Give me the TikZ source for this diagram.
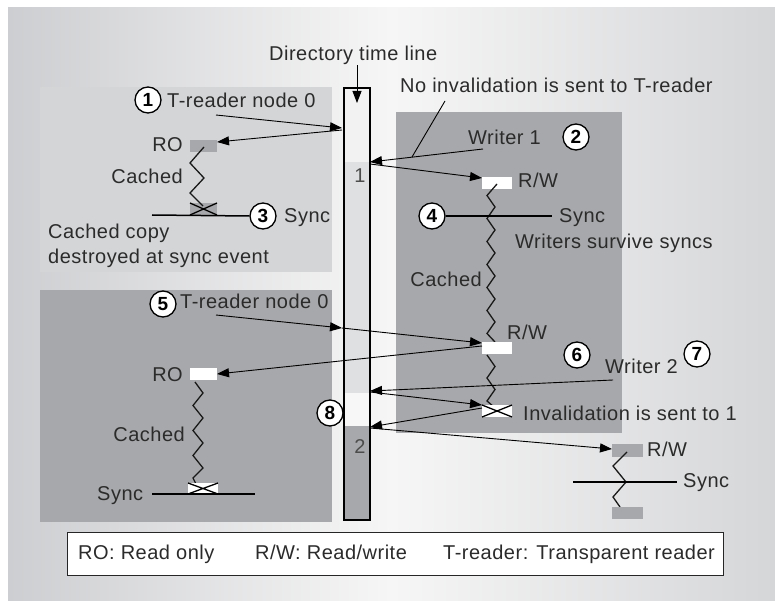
\documentclass[tikz,border=0pt]{standalone}
\usepackage{fontspec}
\setmainfont{Liberation Sans}[LetterSpace=2.5]
\newfontfamily\numfam{Liberation Sans Bold}
\usetikzlibrary{arrows.meta}
\definecolor{txt}{HTML}{2B2B2B}
\definecolor{lightpanel}{HTML}{D4D5D7}
\definecolor{darkpanel}{HTML}{A7A8AB}
\definecolor{bgedge}{HTML}{CDCED1}
\definecolor{bgmid}{HTML}{F6F6F6}
\definecolor{bgright}{HTML}{D5D6D8}
\definecolor{barlight}{HTML}{DFE0E2}
\newcommand\dfont{\fontsize{20}{24}\selectfont}
\newcommand\nfont{\numfam\fontsize{19}{22}\selectfont}
\begin{document}
\begin{tikzpicture}[x=1pt,y=-1pt,
  lbl/.style={font=\dfont, text=txt, inner sep=0pt},
  num/.style={circle, draw=black, fill=white, line width=1.3pt, minimum size=26pt, inner sep=0pt, font=\nfont},
  cbox/.style={anchor=north west, minimum width=27pt, minimum height=12pt, inner sep=0pt, outer sep=0pt},
  wbox/.style={cbox, fill=white},
  gbox/.style={cbox, fill=darkpanel},
  arr/.style={-{Triangle[length=12pt,width=9pt]}, line width=0.9pt, draw=black},
  thin/.style={line width=0.9pt, draw=black},
  zz/.style={line width=1.3pt, line join=miter, draw=black!90},
  syncl/.style={line width=1.5pt, draw=black},
  xmark/.style={line width=1.3pt, draw=black}]
\useasboundingbox (0,0) rectangle (775,601);
\fill[white] (0,0) rectangle (775,601);
\shade[left color=bgedge, right color=bgright, middle color=bgmid] (8,8) rectangle (775,601);

% panels
\fill[lightpanel] (40,87) rectangle (332,272);
\fill[darkpanel] (40,290) rectangle (332,522);
\fill[darkpanel] (396,112) rectangle (622,433);

% directory time line bar
\fill[white!95!black] (343,87) rectangle (369,162);
\fill[barlight] (343,162) rectangle (369,393);
\fill[white!97!black] (343,393) rectangle (369,426);
\fill[darkpanel] (343,426) rectangle (369,519);
\node[draw=black, line width=2pt, anchor=north west, minimum width=26pt, minimum height=432pt, inner sep=0pt] (bar) at (343,87) {};
\node[font=\dfont, text=black!70] (one) at (360,176) {1};
\node[font=\dfont, text=black!70] (two) at (360,447) {2};

\node[lbl, anchor=base west] (dtl) at (269,61) {Directory time line};
\draw[arr] (dtl.south -| bar.north) -- ([yshift=-16pt]bar.north);

% ---------- top-left: T-reader node 0 ----------
\node[num] (c1) at (148,100) {1};
\node[lbl, anchor=base west] (tr1) at (167,108) {T-reader node 0};
\node[gbox] (ro1) at (190,140) {};
\node[lbl, anchor=base east] (ro1t) at (183,152) {RO};
\node[lbl, anchor=base east] (ca1) at (183,184) {Cached};
\node[gbox] (x1) at (190,203) {};
\draw[zz] (204,147) -- (190,163) -- (204,178) -- (190,193) -- (203,206);
\draw[xmark] (x1.north west) -- (x1.south east) (x1.north east) -- (x1.south west);
\node[num] (c3) at (263,216) {3};
\coordinate (s1a) at (152,215);
\draw[syncl] (s1a) -- (c3.west);
\node[lbl, anchor=base west] (sy1) at (284,223) {Sync};
\node[lbl, anchor=base west] (cc1) at (48,239) {Cached copy};
\node[lbl, anchor=base west] (cc2) at (48,264) {destroyed at sync event};
\coordinate (t1s) at (216,115);
\coordinate (bA) at (342,128);
\coordinate (bA2) at (342,130);
\draw[arr] (t1s) -- (bA);
\draw[arr] (bA2) -- ([yshift=4pt]ro1.east);

% ---------- right panel: Writer 1 ----------
\node[lbl, anchor=base west] (noinv) at (400,93) {No invalidation is sent to T-reader};
\node[lbl, anchor=base west] (w1) at (468,145) {Writer 1};
\node[num] (c2) at (576,137) {2};
\coordinate (w1s) at (483,149);
\coordinate (bB) at (370,162);
\coordinate (bB2) at (370,164);
\coordinate (ni1) at (445,101);
\coordinate (ni2) at (412,157);
\draw[thin] (ni1) -- (ni2);
\draw[arr] (w1s) -- (bB);
\node[wbox, minimum width=30pt] (rw1) at (482,177) {};
\node[lbl, anchor=base west] (rw1t) at (518,188) {R/W};
\draw[arr] (bB2) -- ([yshift=-1pt]rw1.north west);
\draw[zz] (497,184) -- (487,195.5) -- (495,207) -- (487,218.5) -- (495,230) -- (487,241.5) -- (495,253) -- (487,264.5) -- (495,276) -- (487,287.5) -- (495,299) -- (487,310.5) -- (495,322) -- (487,333.5) -- (495,342);
\node[num] (c4) at (432,216) {4};
\coordinate (s2b) at (552,216);
\draw[syncl] (c4.east) -- (s2b);
\node[lbl, anchor=base west] (sy2) at (559,223) {Sync};
\node[lbl, anchor=base west] (wss) at (515,248) {Writers survive syncs};
\node[lbl, anchor=base east] (ca2) at (482,287) {Cached};
\node[wbox, minimum width=30pt] (rw2) at (482,342) {};
\node[lbl, anchor=base west] (rw2t) at (507,339) {R/W};
\draw[zz] (487,355) -- (495,366.5) -- (487,378) -- (495,389.5) -- (487,401) -- (494,407);
\node[wbox, minimum width=30pt] (x2) at (482,405) {};
\draw[xmark] (x2.north west) -- (x2.south east) (x2.north east) -- (x2.south west);

% ---------- bottom-left: T-reader node 0 ----------
\node[num] (c5) at (163,304) {5};
\node[lbl, anchor=base west] (tr2) at (180,308) {T-reader node 0};
\coordinate (t2s) at (216,315);
\coordinate (bC) at (342,328);
\draw[arr] (t2s) -- (bC);
\draw[arr] (bC) -- ([yshift=5pt]rw2.west);
\node[wbox] (ro2) at (190,368) {};
\node[lbl, anchor=base east] (ro2t) at (183,381) {RO};
\draw[arr] ([yshift=2pt]rw2.west) -- (ro2.east);
\draw[zz] (195,382) -- (203,393) -- (193,405.5) -- (203,418) -- (193,430.5) -- (203,443) -- (193,455.5) -- (203,468) -- (193,478) -- (196,484);
\node[lbl, anchor=base east] (ca3) at (185,441) {Cached};
\node[wbox, minimum width=30pt, minimum height=11pt] (x3) at (188,483) {};
\draw[xmark] (x3.north west) -- (x3.south east) (x3.north east) -- (x3.south west);
\coordinate (s3a) at (152,494);
\coordinate (s3b) at (255,494);
\draw[syncl] (s3a) -- (s3b);
\node[lbl, anchor=base west] (sy3) at (97,500) {Sync};

% ---------- bottom-right: Writer 2 ----------
\node[num] (c6) at (577,355) {6};
\node[num] (c7) at (697,354) {7};
\node[lbl, anchor=base west] (w2) at (605,373) {Writer 2};
\coordinate (w2s) at (613,380);
\coordinate (bD) at (370,391);
\coordinate (bD2) at (370,392);
\coordinate (bE) at (370,427);
\coordinate (bE2) at (370,428);
\draw[arr] (w2s) -- (bD);
\draw[arr] (bD2) -- (x2.north west);
\draw[arr] ([yshift=-3pt]x2.north west) -- (bE);
\node[gbox, minimum width=31pt, minimum height=13pt] (rw3) at (612,444) {};
\node[lbl, anchor=base west] (rw3t) at (647,456) {R/W};
\draw[arr] (bE2) -- ([yshift=1.5pt]rw3.west);
\node[lbl, anchor=base west] (inv) at (523,420) {Invalidation is sent to 1};
\node[num] (c8) at (330,413) {8};
\draw[zz] (627,452) -- (613,466) -- (626,482) -- (613,497) -- (620,507);
\coordinate (s4a) at (573,482);
\coordinate (s4b) at (677,482);
\draw[syncl] (s4a) -- (s4b);
\node[lbl, anchor=base west] (sy4) at (683,487) {Sync};
\node[gbox, minimum width=31pt] (rw4) at (612,507) {};

% ---------- legend ----------
\node[draw=black!85, line width=1.2pt, fill=white, anchor=north west, minimum width=656pt, minimum height=43pt, inner sep=0pt] (legend) at (67,532) {};
\node[lbl, anchor=base west] (lg1) at (78,559) {RO: Read only};
\node[lbl, anchor=base west] (lg2) at (255,559) {R/W: Read/write};
\node[lbl, anchor=base west] (lg3) at (443,559) {T-reader: Transparent reader};
\end{tikzpicture}
\end{document}
